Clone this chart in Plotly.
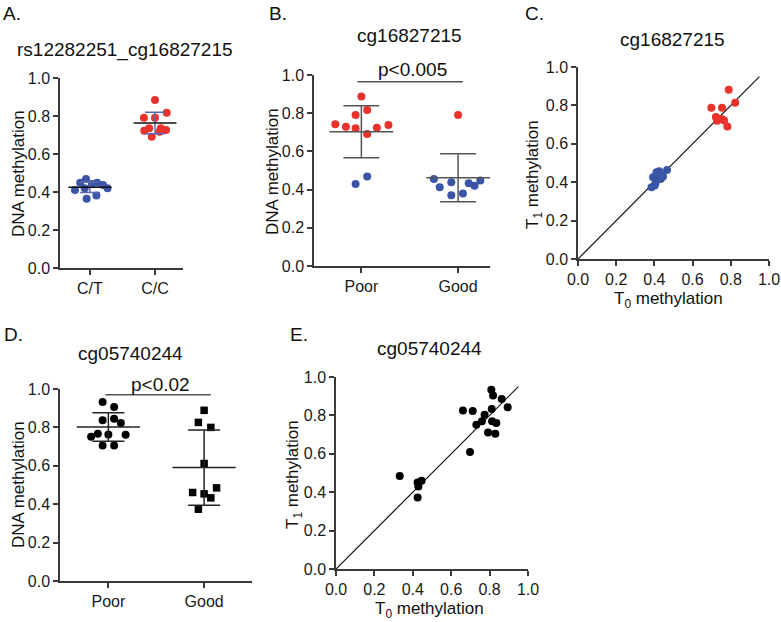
import plotly.graph_objects as go

W, H = 781, 622
RED = "#E8322C"
BLUE = "#3A55A5"
FONT = "Arial, Liberation Sans, sans-serif"

# ---------------- data ----------------
# Panel A: rs12282251_cg16827215 (group index 0 = C/T, 1 = C/C; jitter offsets)
a_ticks = ["C/T", "C/C"]
a_ct_jit = [-0.06, -0.15, 0.11, 0.03, -0.23, -0.08, 0.27, -0.05, 0.10, 0.20]
a_ct_val = [0.469, 0.449, 0.449, 0.442, 0.411, 0.420, 0.420, 0.364, 0.381, 0.437]
a_cc_jit = [0.00, 0.18, -0.17, 0.00, -0.165, -0.09, 0.09, 0.17, 0.07, -0.05]
a_cc_val = [0.884, 0.817, 0.791, 0.791, 0.723, 0.735, 0.735, 0.726, 0.717, 0.691]
a_mean = [0.425, 0.763]
a_sd = [0.027, 0.057]

# Panel B: cg16827215 by outcome
b_ticks = ["Poor", "Good"]
b_poor_red_jit = [0.00, 0.06, -0.06, -0.27, -0.16, -0.06, 0.06, 0.16, 0.28]
b_poor_red_val = [0.887, 0.817, 0.791, 0.742, 0.729, 0.721, 0.691, 0.724, 0.738]
b_poor_blue_jit = [-0.06, 0.06]
b_poor_blue_val = [0.429, 0.468]
b_good_red_jit = [0.00]
b_good_red_val = [0.791]
b_good_blue_jit = [-0.25, -0.19, -0.07, -0.07, 0.05, 0.11, 0.17, 0.23]
b_good_blue_val = [0.455, 0.412, 0.438, 0.370, 0.380, 0.433, 0.420, 0.447]
b_mean = [0.703, 0.462]
b_sd = [0.136, 0.126]
b_p = "p<0.005"

# Panel C: cg16827215 T0 vs T1
c_red_t0 = [0.789, 0.823, 0.698, 0.754, 0.722, 0.738, 0.755, 0.765, 0.728, 0.782]
c_red_t1 = [0.882, 0.814, 0.788, 0.788, 0.740, 0.730, 0.728, 0.722, 0.720, 0.690]
c_blue_t0 = [0.385, 0.402, 0.411, 0.425, 0.393, 0.433, 0.445, 0.466, 0.407, 0.428]
c_blue_t1 = [0.374, 0.383, 0.452, 0.457, 0.426, 0.417, 0.430, 0.464, 0.400, 0.435]

# Panel D: cg05740244 by outcome
d_ticks = ["Poor", "Good"]
d_poor_jit = [-0.06, 0.06, -0.06, 0.06, 0.13, -0.18, -0.11, 0.00, 0.18, -0.06, 0.06]
d_poor_val = [0.932, 0.906, 0.837, 0.845, 0.823, 0.751, 0.767, 0.763, 0.762, 0.706, 0.706]
d_good_jit = [0.00, -0.06, 0.07, 0.00, -0.12, 0.00, 0.13, 0.07, -0.06]
d_good_val = [0.889, 0.826, 0.800, 0.612, 0.461, 0.454, 0.485, 0.433, 0.374]
d_mean = [0.802, 0.591]
d_sd = [0.074, 0.196]
d_p = "p<0.02"

# Panel E: cg05740244 T0 vs T1
e_t0 = [0.809, 0.818, 0.863, 0.894, 0.811, 0.661, 0.712, 0.774, 0.760, 0.731,
        0.813, 0.835, 0.792, 0.830, 0.698, 0.332, 0.425, 0.446, 0.429, 0.425]
e_t1 = [0.934, 0.904, 0.885, 0.843, 0.833, 0.826, 0.823, 0.803, 0.769, 0.751,
        0.769, 0.760, 0.711, 0.704, 0.610, 0.485, 0.450, 0.459, 0.430, 0.372]

identity = [0.0, 0.95]
y_ticks = [0, 0.2, 0.4, 0.6, 0.8, 1.0]
y_ticktext = ["0.0", "0.2", "0.4", "0.6", "0.8", "1.0"]

# ---------------- layout helpers ----------------
def px_dom_x(x0, x1):
    return [x0 / W, x1 / W]

def px_dom_y(top, bottom):
    return [1 - bottom / H, 1 - top / H]

# pixel boxes: (left, right, top, bottom)
panels = {
    "A": dict(box=(60, 183, 78, 268), xr=[-0.46, 1.43]),
    "B": dict(box=(314, 490, 75, 266), xr=[-0.49, 1.33]),
    "C": dict(box=(578, 769, 67, 259), xr=[0, 1]),
    "D": dict(box=(60, 252, 389, 581), xr=[-0.505, 1.5]),
    "E": dict(box=(336, 528, 377, 569), xr=[0, 1]),
}
names = ["A", "B", "C", "D", "E"]

fig = go.Figure()
AX = "#3a3a3a"
layout = dict(template="none", width=W, height=H,
              margin=dict(l=0, r=0, t=0, b=0, pad=0, autoexpand=False),
              paper_bgcolor="white", plot_bgcolor="white", showlegend=False,
              font=dict(family=FONT, size=16, color="#1a1a1a"))

for i, n in enumerate(names):
    p = panels[n]
    l, r, t, b = p["box"]
    sx = "" if i == 0 else str(i + 1)
    common = dict(showline=True, linecolor=AX, linewidth=1.5, ticks="outside",
                  ticklen=5, tickwidth=1.5, tickcolor=AX, showgrid=False,
                  zeroline=False, automargin=False, mirror=False,
                  tickfont=dict(family=FONT, size=16, color="#1a1a1a"))
    xa = dict(domain=px_dom_x(l, r), range=p["xr"], anchor="y" + sx, **common)
    ya = dict(domain=px_dom_y(t, b), range=[0, 1], anchor="x" + sx,
              tickvals=y_ticks, ticktext=y_ticktext, **common)
    if n in ("A", "B", "D"):
        tt = {"A": a_ticks, "B": b_ticks, "D": d_ticks}[n]
        xa.update(tickvals=[0, 1], ticktext=tt)
    else:
        xa.update(tickvals=y_ticks, ticktext=y_ticktext)
    layout["xaxis" + sx] = xa
    layout["yaxis" + sx] = ya

def axes(n):
    i = names.index(n)
    sx = "" if i == 0 else str(i + 1)
    return "x" + sx, "y" + sx

def dots(n, center, jit, val, color, symbol="circle", size=8):
    xr, yr = axes(n)
    fig.add_trace(go.Scatter(x=[center + j for j in jit], y=val, mode="markers",
                             xaxis=xr, yaxis=yr, cliponaxis=False,
                             marker=dict(color=color, size=size, symbol=symbol,
                                         line=dict(width=0))))

def meansd(n, center, mean, sd, mcolor, ecolor, cap, half=0.33):
    xr, yr = axes(n)
    fig.add_trace(go.Scatter(x=[center], y=[mean], mode="markers", xaxis=xr, yaxis=yr,
                             marker=dict(size=1, color="rgba(0,0,0,0)"),
                             error_y=dict(type="constant", value=sd, color=ecolor,
                                          thickness=1.5, width=cap),
                             cliponaxis=False))
    fig.add_trace(go.Scatter(x=[center - half, center + half], y=[mean, mean],
                             mode="lines", xaxis=xr, yaxis=yr,
                             line=dict(color=mcolor, width=1.5), cliponaxis=False))

def line(n, xs, ys, color, width=1.2):
    xr, yr = axes(n)
    fig.add_trace(go.Scatter(x=xs, y=ys, mode="lines", xaxis=xr, yaxis=yr,
                             line=dict(color=color, width=width), cliponaxis=False))

# Panel A
dots("A", 0, a_ct_jit, a_ct_val, BLUE)
dots("A", 1, a_cc_jit, a_cc_val, RED)
meansd("A", 0, a_mean[0], a_sd[0], "#111111", "#5a6ab0", 10)
meansd("A", 1, a_mean[1], a_sd[1], "#111111", "#5a6ab0", 10)

# Panel B
dots("B", 0, b_poor_red_jit, b_poor_red_val, RED)
dots("B", 0, b_poor_blue_jit, b_poor_blue_val, BLUE)
dots("B", 1, b_good_red_jit, b_good_red_val, RED)
dots("B", 1, b_good_blue_jit, b_good_blue_val, BLUE)
meansd("B", 0, b_mean[0], b_sd[0], "#555555", "#555555", 18)
meansd("B", 1, b_mean[1], b_sd[1], "#555555", "#555555", 18)
line("B", [-0.04, 1.05], [0.965, 0.965], "#555555", 1.5)

# Panel C
line("C", identity, identity, "#111111")
dots("C", 0, c_red_t0, c_red_t1, RED)
dots("C", 0, c_blue_t0, c_blue_t1, BLUE)

# Panel D
dots("D", 0, d_poor_jit, d_poor_val, "#000000")
dots("D", 1, d_good_jit, d_good_val, "#000000", symbol="square", size=7.5)
meansd("D", 0, d_mean[0], d_sd[0], "#222222", "#222222", 16)
meansd("D", 1, d_mean[1], d_sd[1], "#222222", "#222222", 16)
line("D", [-0.03, 1.07], [0.97, 0.97], "#555555", 1.5)

# Panel E
line("E", identity, identity, "#111111")
dots("E", 0, e_t0, e_t1, "#000000")

# ---------------- text ----------------
ann = []

def txt(x, y, s, size=16, angle=0, xanchor="center", yanchor="middle"):
    ann.append(dict(x=x / W, y=1 - y / H, xref="paper", yref="paper", text=s,
                    showarrow=False, textangle=angle, xanchor=xanchor, yanchor=yanchor,
                    font=dict(family=FONT, size=size, color="#111111")))

# panel letters
txt(1, 13, "A.", 19, xanchor="left")
txt(267, 14, "B.", 19, xanchor="left")
txt(523, 14, "C.", 19, xanchor="left")
txt(2, 335, "D.", 19, xanchor="left")
txt(288, 335, "E.", 19, xanchor="left")

# titles
txt(125, 50, "rs12282251_cg16827215", 19)
txt(410, 36, "cg16827215", 19)
txt(672, 39, "cg16827215", 19)
txt(130, 353, "cg05740244", 19)
txt(430, 349, "cg05740244", 19)

# p-values
txt(412, 70, b_p, 19)
txt(160, 384, d_p, 19)

# axis titles
txt(18, 174, "DNA methylation", 17, angle=-90)
txt(272, 172, "DNA methylation", 17, angle=-90)
txt(534, 175, "T<sub>1</sub> methylation", 17, angle=-90)
txt(668, 300, "T<sub>0</sub> methylation", 17)
txt(18, 485, "DNA methylation", 17, angle=-90)
txt(294, 475, "T<sub>1</sub> methylation", 17, angle=-90)
txt(430, 610, "T<sub>0</sub> methylation", 17)

layout["annotations"] = ann
fig.update_layout(**layout)
fig.write_html("out.html", config={"displayModeBar": False},
               post_script="document.body.style.margin='0';document.body.style.overflow='hidden';")
